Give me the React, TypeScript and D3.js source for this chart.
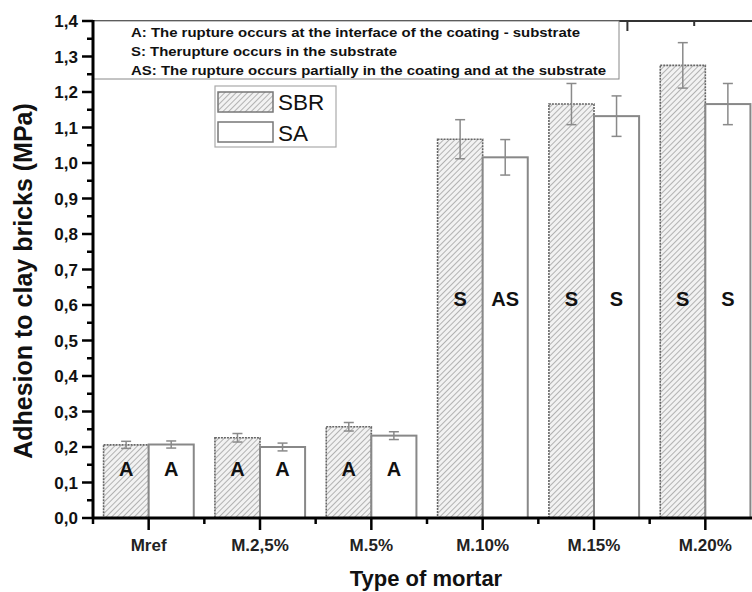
import * as d3 from "d3";
import React from "react";

// mortar types along the x axis
const categories = ["Mref", "M.2,5%", "M.5%", "M.10%", "M.15%", "M.20%"];
const seriesNames = ["SBR", "SA"];

// adhesion (MPa)
const sbrValues = [0.206, 0.226, 0.257, 1.067, 1.166, 1.275];
const saValues = [0.207, 0.2, 0.232, 1.016, 1.132, 1.166];
const sbrErrors = [0.01, 0.012, 0.012, 0.055, 0.058, 0.064];
const saErrors = [0.01, 0.011, 0.011, 0.05, 0.057, 0.058];

// rupture type written in each bar
const sbrLabels = ["A", "A", "A", "S", "S", "S"];
const saLabels = ["A", "A", "A", "AS", "S", "S"];

const yTicks = [0, 0.1, 0.2, 0.3, 0.4, 0.5, 0.6, 0.7, 0.8, 0.9, 1.0, 1.1, 1.2, 1.3, 1.4];

const notes = [
  "A: The rupture occurs at the interface of the coating - substrate",
  "S: Therupture occurs in the substrate",
  "AS: The rupture occurs partially in the coating and at the substrate",
];

const W = 752;
const H = 592;
const left = 93;
const right = 761;
const top = 21;
const bottom = 518;
const font = "'Liberation Sans', Arial, sans-serif";

const App = () => {
  const x = d3.scaleBand<string>().domain(categories).range([left, right]);
  const y = d3.scaleLinear().domain([0, 1.4]).range([bottom, top]);
  const topAxis = d3.scaleLinear().domain([0, 10]).range([left, right]);
  const fmt = (v: number) => d3.format(".1f")(v).replace(".", ",");

  const barW = x.bandwidth() * 0.405;
  const series = [
    { name: seriesNames[0], values: sbrValues, errors: sbrErrors, labels: sbrLabels, dx: -barW, hatch: true },
    { name: seriesNames[1], values: saValues, errors: saErrors, labels: saLabels, dx: 0, hatch: false },
  ];

  const minorY = d3.range(0.05, 1.4, 0.1);

  return (
    <svg width={W} height={H} style={{ position: "absolute", left: 0, top: 0, background: "#fff" }}>
      <defs>
        <pattern id="hatch" width="4" height="4" patternUnits="userSpaceOnUse" patternTransform="rotate(45)">
          <rect width="4" height="4" fill="#f2f2f2" />
          <line x1="0" y1="0" x2="0" y2="4" stroke="#8f8f8f" strokeWidth="1.3" />
        </pattern>
      </defs>

      {/* bars */}
      {series.map((s) =>
        categories.map((c, i) => {
          const bx = (x(c) as number) + x.bandwidth() / 2 + s.dx;
          const by = y(s.values[i]);
          return (
            <rect
              key={s.name + c}
              x={bx}
              y={by}
              width={barW}
              height={bottom - by}
              fill={s.hatch ? "url(#hatch)" : "#fff"}
              stroke={s.hatch ? "#666" : "#888"}
              strokeWidth={s.hatch ? 1.6 : 2}
              strokeDasharray={s.hatch ? "2,1" : undefined}
            />
          );
        })
      )}

      {/* error bars */}
      {series.map((s) =>
        categories.map((c, i) => {
          const cx = (x(c) as number) + x.bandwidth() / 2 + s.dx + barW / 2;
          const y1 = y(s.values[i] + s.errors[i]);
          const y2 = y(s.values[i] - s.errors[i]);
          return (
            <g key={"e" + s.name + c} stroke="#8a8a8a" strokeWidth={1.5}>
              <line x1={cx} x2={cx} y1={y1} y2={y2} />
              <line x1={cx - 5} x2={cx + 5} y1={y1} y2={y1} />
              <line x1={cx - 5} x2={cx + 5} y1={y2} y2={y2} />
            </g>
          );
        })
      )}

      {/* rupture labels */}
      {series.map((s) =>
        categories.map((c, i) => {
          const cx = (x(c) as number) + x.bandwidth() / 2 + s.dx + barW / 2;
          const ly = s.values[i] < 0.5 ? y(0.138) : y(0.617);
          return (
            <text
              key={"l" + s.name + c}
              x={cx}
              y={ly + 7}
              textAnchor="middle"
              fontFamily={font}
              fontWeight="bold"
              fontSize={20}
              fill="#111"
            >
              {s.labels[i]}
            </text>
          );
        })
      )}

      {/* top axis */}
      <line x1={left} x2={W} y1={top} y2={top} stroke="#333" strokeWidth={2} />
      {topAxis.ticks(10).map((t) => (
        <line
          key={"t" + t}
          x1={topAxis(t)}
          x2={topAxis(t)}
          y1={top}
          y2={top + (t % 2 === 0 ? 10 : 5)}
          stroke="#333"
          strokeWidth={2}
        />
      ))}

      {/* notes box */}
      <rect x={left} y={top} width={619 - left} height={79 - top} fill="#fff" stroke="#888" strokeWidth={1} />
      {notes.map((n, i) => (
        <text
          key={n}
          x={131}
          y={37 + i * 19.2}
          fontFamily={font}
          fontWeight="bold"
          fontSize={13.5}
          fill="#111"
          textLength={[449, 266, 475][i]}
          lengthAdjust="spacingAndGlyphs"
        >
          {n}
        </text>
      ))}

      {/* y axis */}
      <line x1={left} x2={left} y1={top - 1} y2={bottom + 1} stroke="#000" strokeWidth={3} />
      {yTicks.map((t) => (
        <g key={"y" + t}>
          <line x1={left - 11} x2={left} y1={y(t)} y2={y(t)} stroke="#000" strokeWidth={2.5} />
          <text
            x={left - 15}
            y={y(t) + 6}
            textAnchor="end"
            fontFamily={font}
            fontWeight="bold"
            fontSize={17}
            fill="#111"
          >
            {fmt(t)}
          </text>
        </g>
      ))}
      {minorY.map((t) => (
        <line key={"my" + t} x1={left - 6} x2={left} y1={y(t)} y2={y(t)} stroke="#000" strokeWidth={2.5} />
      ))}

      {/* x axis */}
      <line x1={left - 1} x2={W} y1={bottom} y2={bottom} stroke="#000" strokeWidth={3} />
      {categories.map((c) => {
        const cx = (x(c) as number) + x.bandwidth() / 2;
        return (
          <g key={"x" + c}>
            <line x1={cx} x2={cx} y1={bottom} y2={bottom + 12} stroke="#000" strokeWidth={2.5} />
            <line x1={x(c)} x2={x(c)} y1={bottom} y2={bottom + 6} stroke="#000" strokeWidth={2.5} />
            <text x={cx} y={551} textAnchor="middle" fontFamily={font} fontWeight="bold" fontSize={17} fill="#222">
              {c}
            </text>
          </g>
        );
      })}

      {/* legend */}
      <rect x={215} y={86} width={121} height={61} fill="#fff" stroke="#aaa" strokeWidth={1.2} />
      {series.map((s, i) => (
        <g key={"lg" + s.name}>
          <rect
            x={218}
            y={92 + i * 30}
            width={55}
            height={20}
            fill={s.hatch ? "url(#hatch)" : "#fff"}
            stroke="#777"
            strokeWidth={1.5}
          />
          <text x={278} y={110 + i * 31} fontFamily={font} fontSize={22.5} fill="#111">
            {s.name}
          </text>
        </g>
      ))}

      {/* axis titles */}
      <text x={426} y={586} textAnchor="middle" fontFamily={font} fontWeight="bold" fontSize={22} fill="#111">
        Type of mortar
      </text>
      <text
        transform={`translate(32,281) rotate(-90)`}
        textAnchor="middle"
        fontFamily={font}
        fontWeight="bold"
        fontSize={25}
        fill="#111"
      >
        Adhesion to clay bricks (MPa)
      </text>
    </svg>
  );
};

export default App;
